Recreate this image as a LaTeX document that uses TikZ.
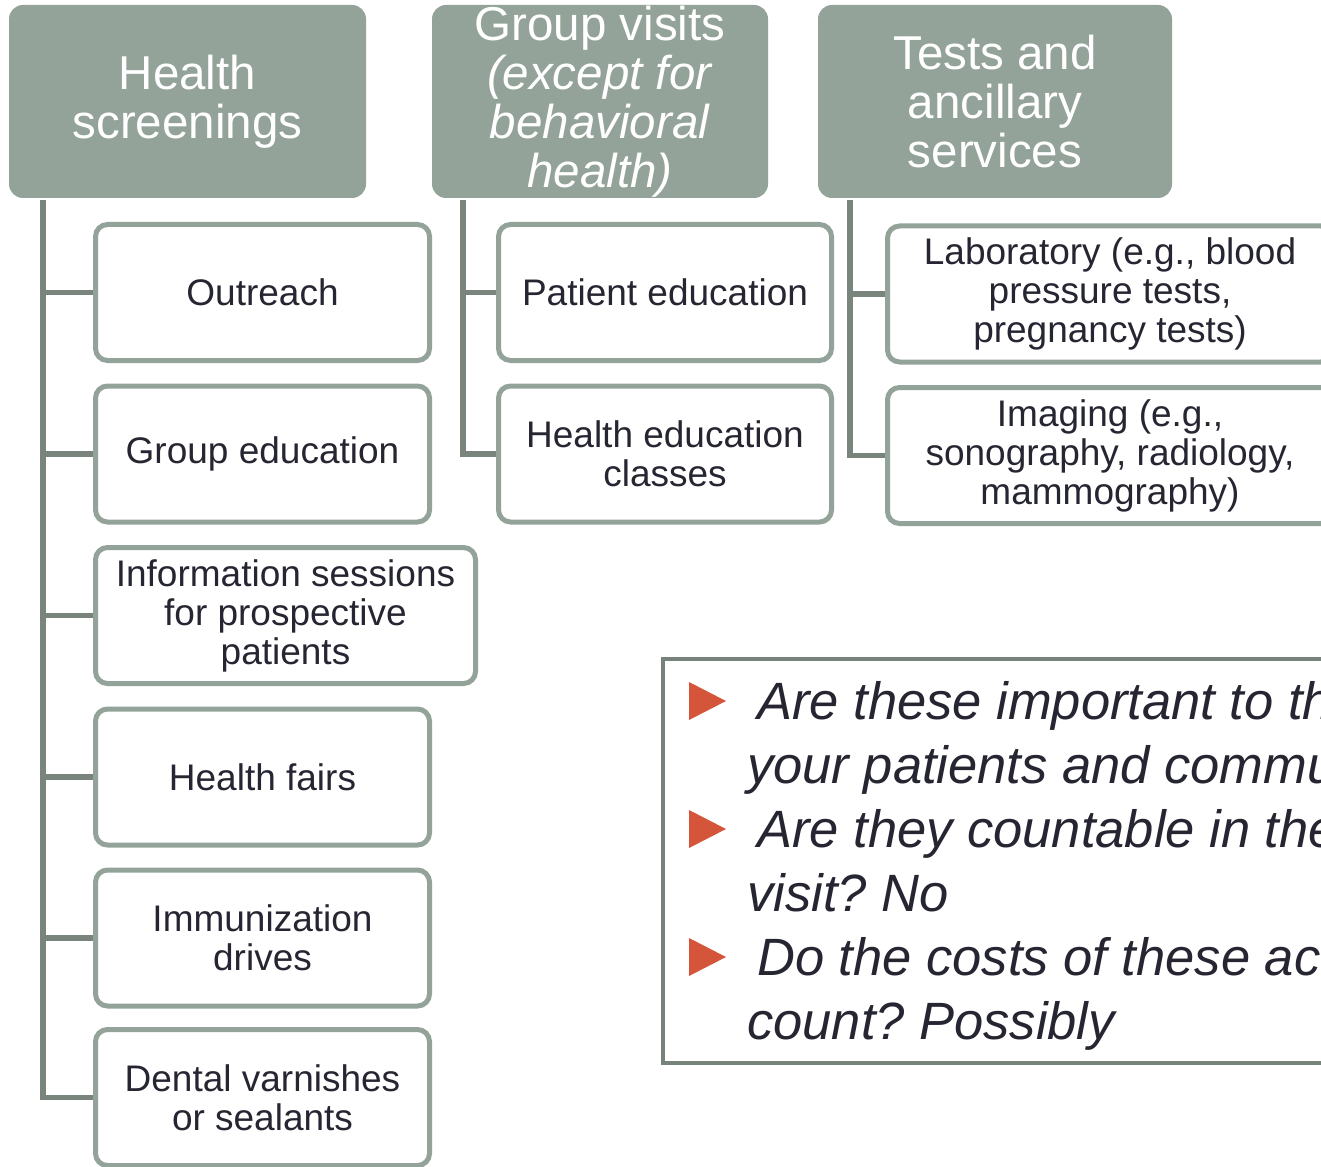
\documentclass[tikz,border=0pt]{standalone}
\usepackage{fontspec}
\setmainfont{Liberation Sans}
\frenchspacing
\definecolor{hdrfill}{RGB}{147,163,153}
\definecolor{boxline}{RGB}{147,163,153}
\definecolor{connc}{RGB}{120,132,124}
\definecolor{framec}{RGB}{118,130,122}
\definecolor{txt}{RGB}{38,38,50}
\definecolor{bulletc}{RGB}{212,85,58}
\begin{document}
\begin{tikzpicture}[x=1pt,y=-1pt,
  hdr/.style={fill=hdrfill, draw=none, rounded corners=14pt, text=white, align=center, inner sep=0pt,
    minimum height=193pt, font=\fontsize{47.5}{49}\selectfont},
  child/.style={fill=white, draw=boxline, line width=5pt, rounded corners=12pt, text=txt, align=center,
    inner sep=0pt, minimum height=136pt, font=\fontsize{37}{39}\selectfont},
  conn/.style={draw=connc, line width=5.5pt},
  frame/.style={draw=framec, line width=4pt, inner sep=0pt},
  qtext/.style={anchor=base west, inner sep=0pt, text=txt, font=\fontsize{52.5}{64}\selectfont\itshape},
  tri/.style={fill=bulletc}
]
\useasboundingbox (0,0) rectangle (1321,1166);
\clip (0,0) rectangle (1321,1166);

% headers
\node[hdr, minimum width=357pt] (h1) at (187.5,101.5) {Health\\screenings};
\node[hdr, minimum width=336pt] (h2) at (600,101.5) {Group visits\\\textit{(except for}\\\textit{behavioral}\\\textit{health)}};
\node[hdr, minimum width=354pt] (h3) at (995,101.5) {Tests and\\ancillary\\services};

% left column
\node[child, minimum width=334pt] (a1) at (262.5,292.5) {Outreach};
\node[child, minimum width=334pt] (a2) at (262.5,454) {Group education};
\node[child, minimum width=380pt] (a3) at (285.5,615.5) {Information sessions\\for prospective\\patients};
\node[child, minimum width=334pt] (a4) at (262.5,777) {Health fairs};
\node[child, minimum width=334pt] (a5) at (262.5,938) {Immunization\\drives};
\node[child, minimum width=334pt] (a6) at (262.5,1097.5) {Dental varnishes\\or sealants};

% middle column
\node[child, minimum width=333pt] (b1) at (665,292.5) {Patient education};
\node[child, minimum width=333pt] (b2) at (665,454) {Health education\\classes};

% right column
\node[child, minimum width=445pt] (c1) at (1110,294) {Laboratory (e.g., blood\\pressure tests,\\pregnancy tests)};
\node[child, minimum width=445pt] (c2) at (1110,455.5) {Imaging (e.g.,\\sonography, radiology,\\mammography)};

% connectors
\foreach \k in {a1,a2,a3,a4,a5,a6}
  \draw[conn] ([xshift=34pt,yshift=-2pt]h1.south west) |- (\k.west);
\foreach \k in {b1,b2}
  \draw[conn] ([xshift=31pt,yshift=-2pt]h2.south west) |- (\k.west);
\foreach \k in {c1,c2}
  \draw[conn] ([xshift=32pt,yshift=-2pt]h3.south west) |- (\k.west);

% question frame
\node[frame, anchor=north west, minimum width=800pt, minimum height=404pt] (q) at (661,657) {};
\fill[tri] (689,682) -- (726,701) -- (689,720) -- cycle;
\fill[tri] (689,810) -- (726,829) -- (689,848) -- cycle;
\fill[tri] (689,938) -- (726,957) -- (689,976) -- cycle;
\node[qtext] (l1) at (757,719) {Are these important to the};
\node[qtext] (l2) at (747,783) {your patients and community};
\node[qtext] (l3) at (757,847) {Are they countable in the};
\node[qtext] (l4) at (747,911) {visit? No};
\node[qtext] (l5) at (757,975) {Do the costs of these activities};
\node[qtext] (l6) at (747,1039) {count? Possibly};
\end{tikzpicture}
\end{document}
